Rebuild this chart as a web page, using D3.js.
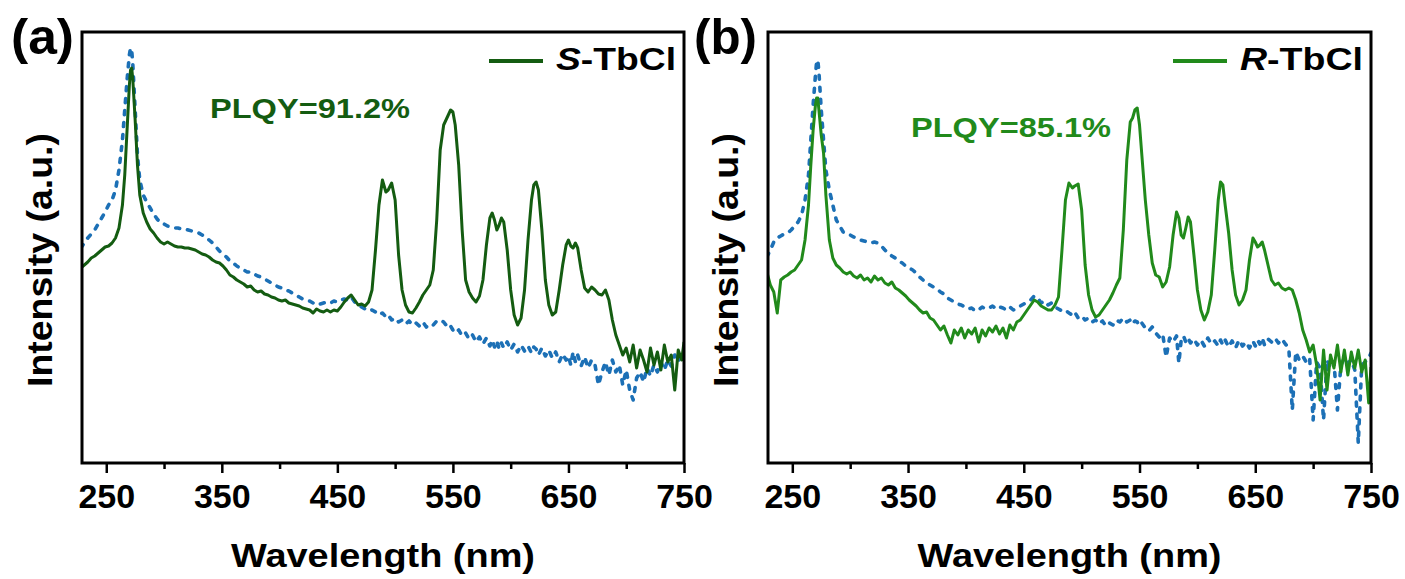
<!DOCTYPE html>
<html>
<head>
<meta charset="utf-8">
<script src="https://d3js.org/d3.v7.min.js"></script>
<style>
  body { margin: 0; background: #fff; }
  text { font-family: "Liberation Sans", Arial, sans-serif; font-weight: bold; }
</style>
</head>
<body>
<svg id="chart" width="1405" height="579"></svg>
<script>
// wavelength grid (nm), shared by all four spectra
var wavelength = [
  228,231,234,237,240,243,246,249,252,255,
  258,261,264,266,268,270,271,272,273,275,
  277,279,282,285,288,291,294,297,300,303,
  306,309,312,315,318,321,324,327,330,333,
  336,339,342,345,348,351,354,357,360,363,
  366,369,372,375,378,381,384,387,390,393,
  396,399,402,405,408,411,414,417,420,423,
  426,429,432,435,438,441,444,447,450,453,
  456,459,462,465,468,471,474,477,480,483,
  486,489,492,494,497,500,503,506,509,512,
  515,518,521,524,527,530,533,536,539,542,
  544,546,548,550,552,555,558,561,564,567,
  570,573,576,579,582,584,586,588,590,592,
  594,597,600,603,606,609,612,615,618,620,
  622,624,627,630,633,636,639,642,645,648,
  650,652,654,656,658,661,664,667,670,673,
  676,679,682,685,688,691,694,697,700,703,
  706,709,712,715,718,721,724,727,730,733,
  736,739,742,745,748,750
];

// (a) S-TbCl emission (a.u.)
var sTbCl = [
  195,198,201,205,207,210,213,216,217,220,
  225,235,258,288,333,378,393,395,383,343,
  298,268,250,241,234,230,225,221,219,221,
  219,217,216,216,215,215,214,213,211,209,
  208,206,203,201,200,197,193,188,186,183,
  181,179,176,177,173,171,172,169,168,166,
  165,163,162,163,160,159,158,157,155,154,
  153,150,154,152,151,153,151,153,152,156,
  161,165,168,163,158,159,157,161,173,213,
  258,283,271,273,280,263,208,173,158,151,
  150,155,161,168,173,178,193,243,313,338,
  343,348,353,351,338,298,233,183,171,165,
  161,167,183,218,245,250,243,233,238,245,
  241,213,173,148,138,145,173,223,263,278,
  281,273,233,183,158,148,151,173,198,218,
  223,217,215,220,215,193,175,171,176,173,
  169,168,173,163,143,128,118,108,115,101,
  118,95,113,103,91,115,98,111,93,118,
  101,108,73,113,103,121
];

// (a) reference (dashed)
var sRef = [
  215,220,225,229,233,239,245,251,258,263,
  273,293,323,353,383,408,415,413,398,353,
  308,283,268,261,255,249,244,240,239,237,
  236,235,235,234,234,233,232,231,230,228,
  226,223,220,216,212,209,206,202,200,197,
  195,193,191,191,189,187,186,184,182,180,
  178,176,175,173,172,170,168,166,164,163,
  162,160,161,159,160,161,160,162,161,163,
  164,163,166,161,158,156,154,152,153,151,
  148,150,146,148,143,145,141,143,139,142,
  138,140,137,141,136,139,138,142,143,141,
  138,135,137,133,130,133,127,130,124,128,
  121,126,119,125,117,123,116,122,114,120,
  115,121,113,119,111,118,112,117,110,116,
  114,108,115,107,113,105,111,101,109,103,
  107,98,111,101,108,97,106,95,103,98,
  78,91,101,88,103,91,98,78,93,73,
  63,85,91,81,95,87,98,91,101,93,
  103,97,108,101,111,113
];

// (b) R-TbCl emission (a.u.)
var rTbCl = [
  191,178,171,150,183,186,188,191,193,198,
  203,223,258,298,333,358,365,365,353,328,
  310,268,223,205,198,195,191,189,191,187,
  185,188,183,185,181,187,183,185,180,178,
  181,175,173,170,167,163,160,157,153,150,
  151,145,143,138,133,137,128,120,133,128,
  135,125,133,129,135,121,133,127,135,131,
  137,129,135,125,138,133,141,143,148,153,
  158,163,161,157,155,153,153,158,166,213,
  263,280,275,277,279,253,198,168,153,146,
  148,153,158,163,170,178,185,233,303,341,
  345,353,355,338,308,263,228,200,188,186,
  176,181,196,228,251,245,228,225,235,246,
  241,208,173,153,143,151,168,213,263,281,
  278,258,230,193,168,158,163,173,203,225,
  221,216,218,221,213,198,183,178,180,175,
  173,175,173,163,150,133,123,111,118,98,
  63,113,73,108,95,118,91,113,88,111,
  95,113,91,103,60,96
];

// (b) reference (dashed)
var rRef = [
  206,213,221,225,227,229,230,233,237,241,
  248,263,288,323,358,388,401,403,391,353,
  323,293,273,258,243,237,231,229,228,226,
  225,223,222,221,220,221,220,217,213,210,
  207,205,202,200,197,195,193,190,186,183,
  180,178,176,174,171,169,165,163,161,159,
  158,156,154,155,152,153,156,154,155,157,
  154,156,155,153,156,153,155,157,159,161,
  163,167,165,160,162,158,160,156,154,152,
  153,150,148,151,145,147,143,145,141,143,
  139,142,137,140,138,143,141,145,141,143,
  139,142,141,137,140,135,132,136,130,126,
  129,106,125,121,127,100,123,127,121,125,
  120,124,118,123,117,125,119,122,117,123,
  118,123,116,122,115,123,117,121,115,122,
  117,123,119,125,118,124,121,125,120,124,
  119,115,53,111,103,107,101,105,43,101,
  95,43,103,95,101,53,98,105,100,103,
  93,20,98,101,105,110
];

var xMajor = [250, 350, 450, 550, 650, 750];
var xMinor = [300, 400, 500, 600, 700];

var svg = d3.select("#chart");

var panels = [
  { id: "a", left: 82, right: 684, label: "(a)", labelX: 11,
    name: "S", series: sTbCl, ref: sRef, color: "#145c11",
    plqy: "PLQY=91.2%", plqyX: 210, plqyY: 118,
    legX: 489, legTextX: 556, legW: 120, titleX: 52 },
  { id: "b", left: 768, right: 1371, label: "(b)", labelX: 694,
    name: "R", series: rTbCl, ref: rRef, color: "#218a1b",
    plqy: "PLQY=85.1%", plqyX: 911, plqyY: 137,
    legX: 1173, legTextX: 1240, legW: 123, titleX: 738 }
];

var plotTop = 32, plotBottom = 463;

panels.forEach(function (p) {
  var x = d3.scaleLinear().domain([229, 750]).range([p.left, p.right]);
  var y = d3.scaleLinear().domain([0, 431]).range([plotBottom, plotTop]);

  svg.append("clipPath").attr("id", "clip-" + p.id)
    .append("rect")
    .attr("x", p.left).attr("y", plotTop)
    .attr("width", p.right - p.left).attr("height", plotBottom - plotTop);

  var line = d3.line()
    .x(function (d, i) { return x(wavelength[i]); })
    .y(function (d) { return y(d); });

  var g = svg.append("g").attr("clip-path", "url(#clip-" + p.id + ")");

  // dashed reference first, sample on top
  g.append("path")
    .datum(p.ref)
    .attr("fill", "none")
    .attr("stroke", "#1c70b6")
    .attr("stroke-width", 3.6)
    .attr("stroke-dasharray", "4,8")
    .attr("stroke-linecap", "round")
    .attr("stroke-linejoin", "round")
    .attr("d", line);

  g.append("path")
    .datum(p.series)
    .attr("fill", "none")
    .attr("stroke", p.color)
    .attr("stroke-width", 3)
    .attr("stroke-linejoin", "round")
    .attr("d", line);

  // minor ticks
  svg.append("g")
    .attr("transform", "translate(0," + plotBottom + ")")
    .call(d3.axisBottom(x).tickValues(xMinor).tickSize(6).tickFormat(""))
    .call(function (s) { s.select(".domain").remove(); })
    .selectAll("line").attr("stroke", "#000").attr("stroke-width", 2.5);

  // major ticks + labels
  var ax = svg.append("g")
    .attr("transform", "translate(0," + plotBottom + ")")
    .call(d3.axisBottom(x).tickValues(xMajor).tickSize(10));
  ax.select(".domain").remove();
  ax.selectAll("line").attr("stroke", "#000").attr("stroke-width", 2.5);
  ax.selectAll("text")
    .attr("y", 45).attr("dy", null)
    .attr("fill", "#000")
    .style("font-size", "34px")
    .style("font-family", "'Liberation Sans', Arial, sans-serif")
    .style("font-weight", "bold");

  // frame
  svg.append("rect")
    .attr("x", p.left).attr("y", plotTop)
    .attr("width", p.right - p.left).attr("height", plotBottom - plotTop)
    .attr("fill", "none").attr("stroke", "#000").attr("stroke-width", 3);

  // axis titles
  svg.append("text")
    .attr("x", (p.left + p.right) / 2).attr("y", 567)
    .attr("text-anchor", "middle")
    .attr("textLength", 304).attr("lengthAdjust", "spacingAndGlyphs")
    .style("font-size", "34px")
    .text("Wavelength (nm)");

  svg.append("text")
    .attr("transform", "translate(" + p.titleX + ",260) rotate(-90)")
    .attr("text-anchor", "middle")
    .attr("textLength", 254).attr("lengthAdjust", "spacingAndGlyphs")
    .style("font-size", "35px")
    .text("Intensity (a.u.)");

  // panel label
  svg.append("text")
    .attr("x", p.labelX).attr("y", 54)
    .attr("textLength", 63).attr("lengthAdjust", "spacingAndGlyphs")
    .style("font-size", "50px")
    .text(p.label);

  // legend
  svg.append("line")
    .attr("x1", p.legX).attr("x2", p.legX + 54)
    .attr("y1", 61).attr("y2", 61)
    .attr("stroke", p.color).attr("stroke-width", 4);

  var lt = svg.append("text")
    .attr("x", p.legTextX).attr("y", 70)
    .attr("textLength", p.legW).attr("lengthAdjust", "spacingAndGlyphs")
    .style("font-size", "32px");
  lt.append("tspan").style("font-style", "italic").text(p.name);
  lt.append("tspan").text("-TbCl");

  // PLQY note
  svg.append("text")
    .attr("x", p.plqyX).attr("y", p.plqyY)
    .attr("textLength", 200).attr("lengthAdjust", "spacingAndGlyphs")
    .attr("fill", p.color)
    .style("font-size", "28px")
    .text(p.plqy);
});
</script>
</body>
</html>
